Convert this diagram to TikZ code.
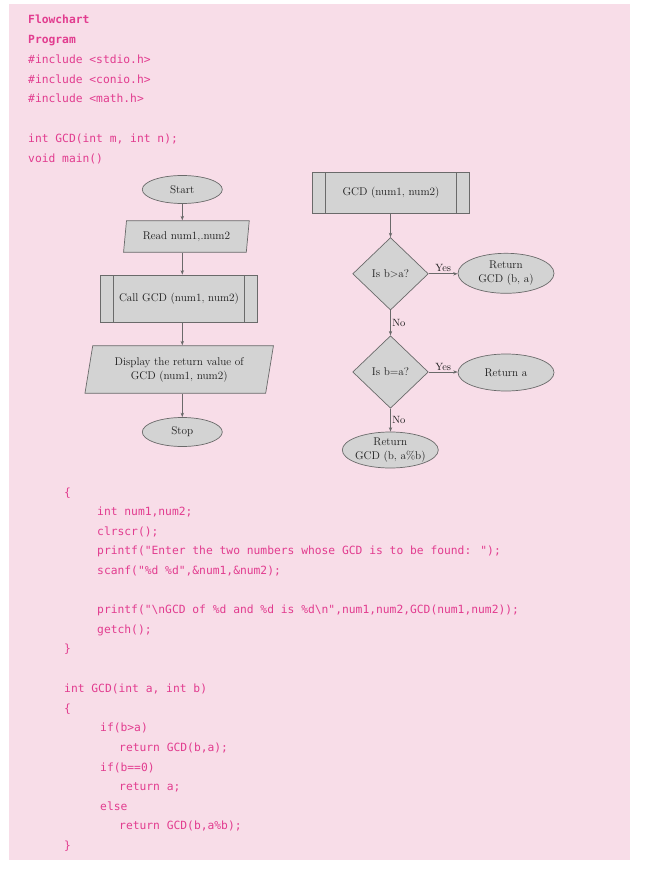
\documentclass[tikz,border=0pt]{standalone}
\usepackage{fontspec}
\newfontfamily\codefont{DejaVu Sans Mono}
\usetikzlibrary{shapes.geometric,arrows.meta}

\definecolor{pagepink}{HTML}{F8DDE8}
\definecolor{codepink}{HTML}{E23C8F}
\definecolor{boxfill}{HTML}{D3D3D3}
\definecolor{boxline}{HTML}{6A6A6A}
\definecolor{boxtext}{HTML}{1E1E1E}

\tikzset{
  code/.style={anchor=base west, inner sep=0pt, text=codepink,
    font=\codefont\fontsize{11.3}{13}\selectfont},
  codehead/.style={code, font=\codefont\bfseries\fontsize{11.3}{13}\selectfont},
  fcbox/.style={draw=boxline, fill=boxfill, line width=0.7pt, align=center,
    text=boxtext, inner sep=0pt, font=\fontsize{11.2}{14}\selectfont},
  terminal/.style={fcbox, ellipse},
  iobox/.style={fcbox, trapezium, trapezium stretches body},
  subproc/.style={fcbox, rectangle,
    path picture={
      \draw[boxline, line width=0.7pt]
        ([xshift=12.6pt]path picture bounding box.north west) --
        ([xshift=12.6pt]path picture bounding box.south west)
        ([xshift=-12.6pt]path picture bounding box.north east) --
        ([xshift=-12.6pt]path picture bounding box.south east);
    }},
  decision/.style={fcbox, diamond, minimum width=75.6pt, minimum height=72.5pt},
  flow/.style={draw=boxline, line width=0.7pt, -{Stealth[length=4.5pt,width=3.4pt]}},
  branch/.style={inner sep=1.5pt, text=boxtext, font=\fontsize{10.5}{12}\selectfont},
}

\begin{document}
\begin{tikzpicture}[x=1pt,y=-1pt]
  % page and shaded panel
  \useasboundingbox (0,0) rectangle (650,882);
  \fill[white] (0,0) rectangle (650,882);
  \fill[pagepink] (9,4) rectangle (630,859.5);

  % program header
  \node[codehead] (h1) at (28,24) {Flowchart};
  \node[codehead] (h2) at (28,43.7) {Program};
  \node[code] (h3) at (28,63.4) {\#include <stdio.h>};
  \node[code] (h4) at (28,83.1) {\#include <conio.h>};
  \node[code] (h5) at (28,102.8) {\#include <math.h>};
  \node[code] (h6) at (28,142.6) {int GCD(int m, int n);};
  \node[code] (h7) at (28,162.3) {void main()};

  % flowchart of main()
  \node[terminal, minimum width=80pt, minimum height=28pt] (start) at (182.3,189.5) {Start};
  \node[iobox, trapezium left angle=73.4, trapezium right angle=106.6,
        minimum width=125.7pt, minimum height=31.6pt] (read) at (186.4,236.5) {Read num1,.num2};
  \node[subproc, minimum width=156.6pt, minimum height=47.3pt] (call) at (179,298.7) {Call GCD (num1, num2)};
  \node[iobox, trapezium left angle=72.5, trapezium right angle=107.5,
        minimum width=188.5pt, minimum height=47.6pt] (show) at (179.2,369.5)
        {Display the return value of\\GCD (num1, num2)};
  \node[terminal, minimum width=80pt, minimum height=29pt] (stop) at (182.3,432) {Stop};

  \draw[flow] (start.south) -- (start.south |- read.north);
  \draw[flow] (start.south |- read.south) -- (start.south |- call.north);
  \draw[flow] (start.south |- call.south) -- (start.south |- show.north);
  \draw[flow] (start.south |- show.south) -- (stop.north);

  % flowchart of GCD()
  \node[subproc, minimum width=156.6pt, minimum height=41.7pt] (gcd) at (391,193) {GCD (num1, num2)};
  \node[decision] (q1) at (390.5,273.8) {Is b>a?};
  \node[terminal, minimum width=96pt, minimum height=40pt] (r1) at (506,273.3) {Return\\GCD (b, a)};
  \node[decision] (q2) at (390.5,372) {Is b=a?};
  \node[terminal, minimum width=96pt, minimum height=37pt] (r2) at (506,372.5) {Return a};
  \node[terminal, inner sep=-2.5pt, minimum width=96pt, minimum height=36pt] (r3) at (390.3,450) {Return\\GCD (b, a\%b)};

  \draw[flow] (q1.north |- gcd.south) -- (q1.north);
  \draw[flow] (q1.east) -- node[branch, above] (y1) {Yes} (r1.west |- q1.east);
  \draw[flow] (q1.south) -- node[branch, right] (n1) {No} (q2.north);
  \draw[flow] (q2.east) -- node[branch, above] (y2) {Yes} (r2.west |- q2.east);
  \draw[flow] (q2.south) -- node[branch, right] (n2) {No} (q2.south |- r3.north);

  % body of main()
  \node[code] (m0) at (64,496) {\{};
  \node[code] (m1) at (97,515.7) {int num1,num2;};
  \node[code] (m2) at (97,535.3) {clrscr();};
  \node[code] (m3) at (97,554.9) {printf("Enter the two numbers whose GCD is to be found: ");};
  \node[code] (m4) at (97,574.5) {scanf("\%d \%d",\&num1,\&num2);};
  \node[code] (m5) at (97,613.7) {printf("\textbackslash nGCD of \%d and \%d is \%d\textbackslash n",num1,num2,GCD(num1,num2));};
  \node[code] (m6) at (97,633.3) {getch();};
  \node[code] (m7) at (64,652.9) {\}};

  % body of GCD()
  \node[code] (g0) at (64,692.7) {int GCD(int a, int b)};
  \node[code] (g1) at (64,712.3) {\{};
  \node[code] (g2) at (100,731.9) {if(b>a)};
  \node[code] (g3) at (119,751.5) {return GCD(b,a);};
  \node[code] (g4) at (100,771.1) {if(b==0)};
  \node[code] (g5) at (119,790.7) {return a;};
  \node[code] (g6) at (100,810.3) {else};
  \node[code] (g7) at (119,829.9) {return GCD(b,a\%b);};
  \node[code] (g8) at (64,849.5) {\}};
\end{tikzpicture}
\end{document}
